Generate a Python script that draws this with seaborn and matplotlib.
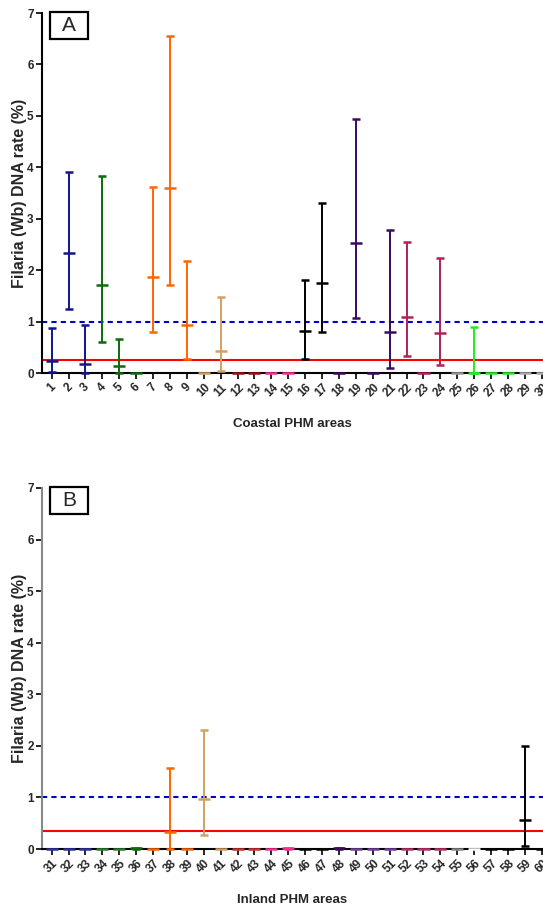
import matplotlib
matplotlib.use("Agg")
import matplotlib.pyplot as plt
import seaborn as sns
import pandas as pd
from matplotlib.patches import Rectangle

# ---------------- data ----------------
coastal_areas = list(range(1, 31))
coastal_mean = [0.23, 2.33, 0.175, 1.72, 0.14, 0, 1.87, 3.60, 0.93, 0, 0.43, 0, 0, 0, 0,
                0.82, 1.75, 0, 2.53, 0, 0.80, 1.09, 0, 0.78, 0, 0, 0, 0, 0, 0]
coastal_low = [0.02, 1.25, 0.0, 0.60, 0.0, 0, 0.80, 1.72, 0.28, 0, 0.04, 0, 0, 0, 0,
               0.28, 0.80, 0, 1.07, 0, 0.09, 0.34, 0, 0.16, 0, 0, 0, 0, 0, 0]
coastal_high = [0.87, 3.90, 0.93, 3.83, 0.67, 0, 3.62, 6.55, 2.18, 0, 1.47, 0, 0, 0, 0,
                1.81, 3.31, 0, 4.94, 0, 2.78, 2.55, 0, 2.24, 0, 0.89, 0, 0, 0, 0]
coastal_colors = ["#14148c"] * 3 + ["#0b6b0b"] * 3 + ["#ff6600"] * 3 + ["#d2a060"] * 2 + \
                 ["#a01010"] * 2 + ["#ff2d8f"] * 2 + ["#000000"] * 2 + ["#3a0a5e"] * 4 + \
                 ["#b0205c"] * 3 + ["#999999"] + ["#22ee22"] * 3 + ["#aaaaaa"] * 2
coastal_threshold = 0.25

inland_areas = list(range(31, 61))
inland_mean = [0, 0, 0, 0, 0, 0.02, 0, 0.32, 0, 0.97, 0, 0, 0, 0, 0.02,
               0, 0, 0.02, 0, 0, 0, 0, 0, 0, 0, 0, 0, 0, 0.57, 0]
inland_low = [0, 0, 0, 0, 0, 0, 0, 0.0, 0, 0.28, 0, 0, 0, 0, 0,
              0, 0, 0, 0, 0, 0, 0, 0, 0, 0, 0, 0, 0, 0.05, 0]
inland_high = [0, 0, 0, 0, 0, 0.02, 0, 1.58, 0, 2.31, 0, 0, 0, 0, 0.02,
               0, 0, 0.02, 0, 0, 0, 0, 0, 0, 0, 0, 0, 0, 1.99, 0]
inland_colors = ["#3030a8"] * 3 + ["#2e7d2e"] * 2 + ["#0b6b0b"] + ["#ff6600"] * 3 + \
                ["#d2a060"] * 2 + ["#d03030"] * 2 + ["#ff2d8f"] * 2 + ["#000000"] * 2 + \
                ["#3a0a5e"] + ["#7040a0"] * 3 + ["#c0306a"] * 3 + ["#888888"] + ["#ffffff"] + \
                ["#000000"] * 4
inland_threshold = 0.35

target_rate = 1.0
y_ticks = [0, 1, 2, 3, 4, 5, 6, 7]

# ---------------- style ----------------
sns.set_style("ticks")
plt.rcParams['font.family'] = ['Liberation Sans', 'DejaVu Sans']

W, H = 543, 909
fig = plt.figure(figsize=(W / 100, H / 100), dpi=100)
ax1 = fig.add_axes([42 / W, 1 - 373 / H, 501 / W, 360 / H])
ax2 = fig.add_axes([42 / W, 1 - 849 / H, 501 / W, 361 / H])


def draw(ax, areas, mean, low, high, colors, thr, xlabel, letter, spine_color):
    df = pd.DataFrame({"area": areas, "mean": mean, "low": low, "high": high, "color": colors})
    df["key"] = df["area"].astype(str)
    palette = dict(zip(df["key"], df["color"]))

    ax.axhline(thr, color="#ff0000", lw=1.5, zorder=2)
    ax.axhline(target_rate, color="#0000cc", lw=1.5, ls=(0, (2.5, 2)), zorder=2)

    for _, r in df.iterrows():
        if r["high"] > r["low"]:
            ax.errorbar(r["area"], r["mean"],
                        yerr=[[r["mean"] - r["low"]], [r["high"] - r["mean"]]],
                        fmt="none", ecolor=r["color"], elinewidth=1.4,
                        capsize=2.6, capthick=1.8, zorder=3, clip_on=False)

    sns.scatterplot(data=df, x="area", y="mean", hue="key", palette=palette,
                    marker="_", s=75, linewidth=1.8, legend=False, ax=ax,
                    zorder=5, clip_on=False)

    ax.set_xlim(areas[0] - 0.57, areas[-1] + 0.07)
    ax.set_ylim(0, 7)
    ax.set_xticks(areas)
    ax.set_xticklabels([str(a) for a in areas], rotation=45, ha="center",
                       fontweight="bold", fontsize=8.5)
    ax.set_yticks(y_ticks)
    ax.set_yticklabels([str(t) for t in y_ticks], fontweight="bold", fontsize=8.5)
    ax.tick_params(axis="both", direction="out", length=4, width=1.2, color="black", pad=2)
    ax.tick_params(axis="x", pad=2)

    sns.despine(ax=ax)
    ax.spines["left"].set_color(spine_color)
    ax.spines["left"].set_linewidth(1.5)
    ax.spines["bottom"].set_color("black")
    ax.spines["bottom"].set_linewidth(1.5)

    ax.set_xlabel(xlabel, fontweight="bold", fontsize=9.5)
    ax.xaxis.set_label_coords(0.5, -0.125)
    ax.set_ylabel("Filaria (Wb) DNA rate (%)", fontweight="bold", fontsize=11.5)
    ax.yaxis.set_label_coords(-0.03, 0.5)

    ax.add_patch(Rectangle((0.016, 0.928), 0.076, 0.075, transform=ax.transAxes,
                           fill=False, lw=1.6, edgecolor="black", clip_on=False, zorder=6))
    ax.text(0.054, 0.965, letter, transform=ax.transAxes, ha="center", va="center",
            fontsize=15, zorder=7)


draw(ax1, coastal_areas, coastal_mean, coastal_low, coastal_high, coastal_colors,
     coastal_threshold, "Coastal PHM areas", "A", "black")
draw(ax2, inland_areas, inland_mean, inland_low, inland_high, inland_colors,
     inland_threshold, "Inland PHM areas", "B", "#888888")

fig.savefig("out.png", dpi=100)
